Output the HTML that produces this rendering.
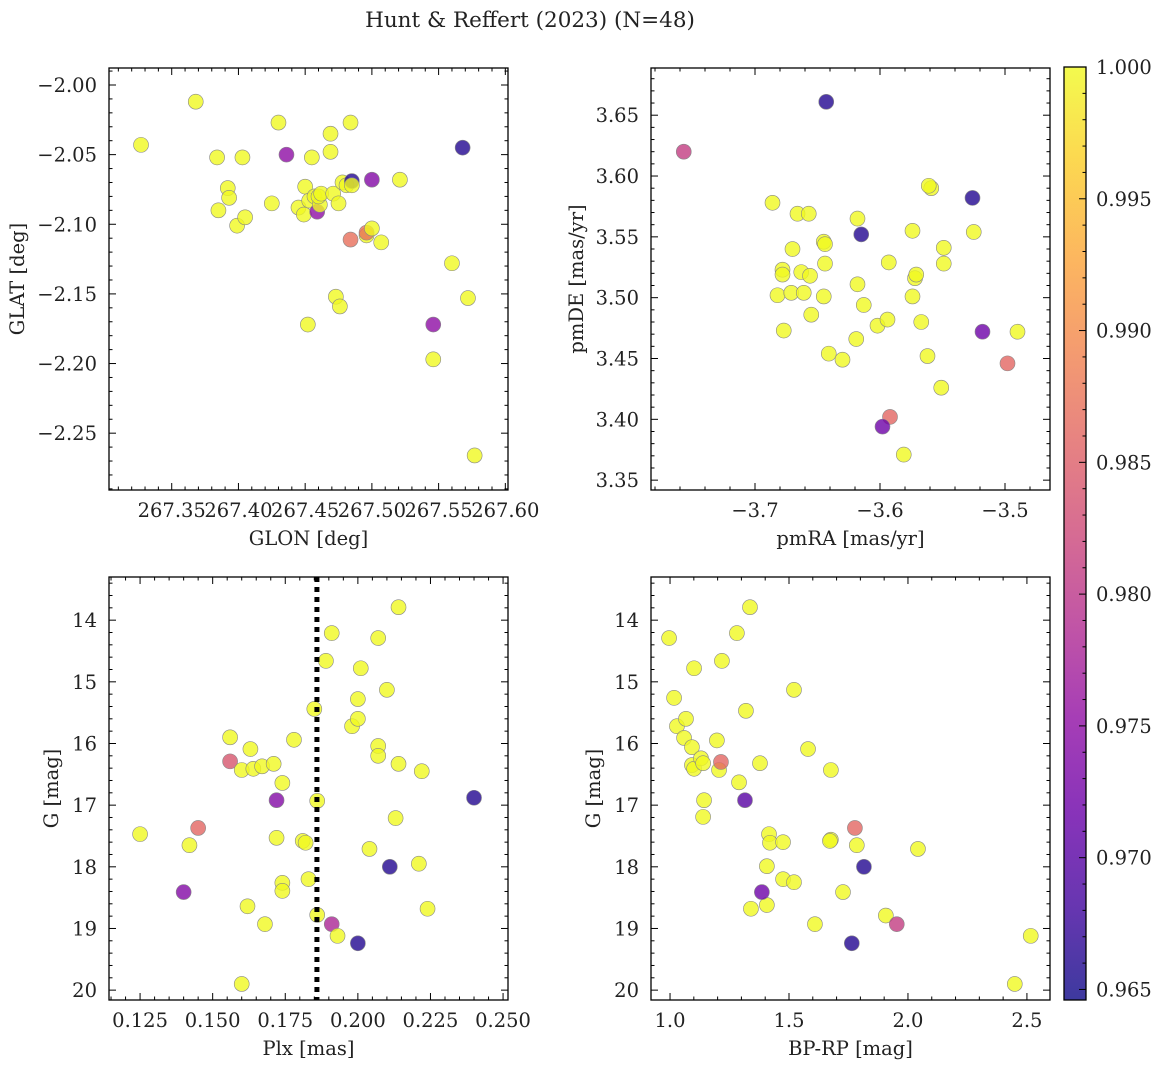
<!DOCTYPE html>
<html><head><meta charset="utf-8"><style>
body{margin:0;background:#fff}
svg text{font-family:"DejaVu Serif","Liberation Serif",serif;fill:#222}
</style></head><body>
<svg id="fig" width="1161" height="1067" xmlns="http://www.w3.org/2000/svg">
<defs><linearGradient id="cbg" x1="0" y1="1" x2="0" y2="0">
<stop offset="0" stop-color="#0d0887"/><stop offset="0.1" stop-color="#41049d"/><stop offset="0.2" stop-color="#6a00a8"/><stop offset="0.3" stop-color="#8f0da4"/><stop offset="0.4" stop-color="#b12a90"/><stop offset="0.5" stop-color="#cc4778"/><stop offset="0.6" stop-color="#e16462"/><stop offset="0.7" stop-color="#f2844b"/><stop offset="0.8" stop-color="#fca636"/><stop offset="0.9" stop-color="#fcce25"/><stop offset="1" stop-color="#f0f921"/></linearGradient></defs>
<text x="530" y="27" font-size="21.5" text-anchor="middle">Hunt &amp; Reffert (2023) (N=48)</text>
</svg>
<script>
// ---- data ----
const glon=[267.327,267.368,267.384,267.392,267.393,267.385,267.403,267.399,267.405,267.425,267.430,267.436,267.445,267.450,267.449,267.453,267.455,267.457,267.459,267.461,267.460,267.462,267.469,267.469,267.471,267.475,267.478,267.481,267.485,267.484,267.485,267.484,267.496,267.496,267.500,267.500,267.507,267.521,267.473,267.476,267.452,267.546,267.560,267.572,267.546,267.577,267.568];
const glat=[-2.043,-2.012,-2.052,-2.074,-2.081,-2.090,-2.052,-2.101,-2.095,-2.085,-2.027,-2.050,-2.088,-2.073,-2.093,-2.083,-2.052,-2.080,-2.091,-2.086,-2.080,-2.078,-2.035,-2.048,-2.078,-2.085,-2.070,-2.072,-2.069,-2.027,-2.072,-2.111,-2.108,-2.106,-2.103,-2.068,-2.113,-2.068,-2.152,-2.159,-2.172,-2.172,-2.128,-2.153,-2.197,-2.266,-2.045];
const probTL=[1,1,1,1,1,1,1,1,1,1,1,0.975,1,1,1,1,1,1,0.975,1,1,1,1,1,1,1,1,1,0.966,1,1,0.987,1,0.987,1,0.974,1,1,1,1,1,0.975,1,1,1,1,0.966];
const pmra=[-3.757,-3.643,-3.686,-3.666,-3.657,-3.678,-3.678,-3.682,-3.677,-3.670,-3.671,-3.663,-3.661,-3.656,-3.655,-3.645,-3.644,-3.644,-3.645,-3.641,-3.630,-3.618,-3.619,-3.618,-3.615,-3.613,-3.602,-3.594,-3.592,-3.598,-3.593,-3.572,-3.574,-3.571,-3.574,-3.567,-3.562,-3.559,-3.561,-3.551,-3.549,-3.549,-3.526,-3.525,-3.518,-3.498,-3.490,-3.581];
const pmde=[3.620,3.661,3.578,3.569,3.569,3.523,3.519,3.502,3.473,3.540,3.504,3.521,3.504,3.518,3.486,3.546,3.544,3.528,3.501,3.454,3.449,3.511,3.466,3.565,3.552,3.494,3.477,3.482,3.402,3.394,3.529,3.516,3.501,3.519,3.555,3.480,3.452,3.590,3.592,3.426,3.528,3.541,3.582,3.554,3.472,3.446,3.472,3.371];
const probTR=[0.981,0.966,1,1,1,1,1,1,1,1,1,1,1,1,1,1,1,1,1,1,1,1,1,1,0.966,1,1,1,0.986,0.972,1,1,1,1,1,1,1,1,1,1,1,1,0.966,1,0.972,0.986,1,1];
const plx=[0.125,0.142,0.145,0.140,0.156,0.156,0.160,0.163,0.164,0.167,0.171,0.172,0.172,0.174,0.178,0.162,0.168,0.174,0.174,0.181,0.182,0.185,0.186,0.186,0.183,0.189,0.191,0.191,0.193,0.198,0.200,0.200,0.201,0.204,0.207,0.207,0.207,0.210,0.214,0.213,0.211,0.200,0.221,0.222,0.224,0.240,0.214,0.160];
const gBL=[17.47,17.65,17.37,18.41,15.90,16.29,16.43,16.09,16.41,16.37,16.33,16.92,17.53,16.64,15.94,18.64,18.93,18.26,18.39,17.58,17.61,15.44,16.93,18.78,18.20,14.66,14.21,18.93,19.12,15.72,15.60,15.28,14.78,17.71,14.29,16.04,16.20,15.13,16.33,17.21,18.00,19.24,17.95,16.45,18.68,16.88,13.79,19.90];
const probBL=[1,1,0.986,0.974,1,0.984,1,1,1,1,1,0.974,1,1,1,1,1,1,1,1,1,1,1,1,1,1,1,0.978,1,1,1,1,1,1,1,1,1,1,1,1,0.966,0.966,1,1,1,0.966,1,1];
const bprp=[0.996,1.017,1.029,1.067,1.059,1.101,1.092,1.092,1.101,1.130,1.139,1.143,1.139,1.197,1.206,1.218,1.214,1.281,1.290,1.319,1.336,1.378,1.315,1.340,1.407,1.416,1.407,1.420,1.475,1.475,1.521,1.521,1.580,1.609,1.676,1.672,1.676,1.727,1.764,1.777,1.785,1.815,1.907,1.953,2.042,2.516,2.449,1.386];
const gBR=[14.29,15.26,15.72,15.60,15.91,14.78,16.06,16.35,16.41,16.24,16.32,16.92,17.19,15.95,16.43,14.66,16.30,14.21,16.63,15.47,13.79,16.32,16.92,18.68,18.62,17.47,17.99,17.61,17.60,18.20,18.25,15.13,16.09,18.93,17.56,17.58,16.43,18.41,19.24,17.37,17.65,18.00,18.79,18.93,17.71,19.12,19.90,18.41];
const probBR=[1,1,1,1,1,1,1,1,1,1,1,1,1,1,1,1,0.986,1,1,1,1,1,0.970,1,1,1,1,1,1,1,1,1,1,1,1,1,1,1,0.966,0.986,1,0.966,1,0.981,1,1,1,0.972];
const plxLine=0.1859;
const cbTicks=['0.965','0.970','0.975','0.980','0.985','0.990','0.995','1.000'];

const NS="http://www.w3.org/2000/svg";
const svg=document.getElementById('fig');
function mk(tag,attrs,parent){const e=document.createElementNS(NS,tag);for(const k in attrs)e.setAttribute(k,attrs[k]);(parent||svg).appendChild(e);return e;}
const stops=[[13,8,135],[65,4,157],[106,0,168],[143,13,164],[177,42,144],[204,71,120],[225,100,98],[242,132,75],[252,166,54],[252,206,37],[240,249,33]];
const cmin=0.9646,cmax=1.0;
function cmap(v){let t=Math.max(0,Math.min(1,(v-cmin)/(cmax-cmin)))*10;let i=Math.min(9,Math.floor(t)),f=t-i;const a=stops[i],b=stops[i+1];return 'rgb('+a.map((c,k)=>Math.round(c+(b[k]-c)*f)).join(',')+')';}
function fmt(v,d){let s=v.toFixed(d);return s.replace('-','\u2212');}
const TF=19.5;

function panel(o){
  const g=mk('g',{});
  
  
  const L=o.box[0],T=o.box[1],R=o.box[2],B=o.box[3];
  const sx=v=>L+(v-o.xd[0])/(o.xd[1]-o.xd[0])*(R-L);
  const sy=o.inv?(v=>T+(v-o.yd[0])/(o.yd[1]-o.yd[0])*(B-T)):(v=>B-(v-o.yd[0])/(o.yd[1]-o.yd[0])*(B-T));
  for(let i=0;i<o.x.length;i++){
    const c=mk('circle',{cx:sx(o.x[i]),cy:sy(o.y[i]),r:7.5,fill:cmap(o.c[i]),'fill-opacity':0.8,stroke:'#888','stroke-width':0.6},g);
    
    
  }
  if(o.vline!==undefined){
    const l=mk('line',{x1:sx(o.vline),x2:sx(o.vline),y1:T,y2:B,stroke:'#000','stroke-width':5,'stroke-dasharray':'5 5'},g);
    
    
  }
  mk('rect',{x:L,y:T,width:R-L,height:B-T,fill:'none',stroke:'#000','stroke-width':1.3},g);
  const eps=1e-9;
  function ticksX(step,minor,d){
    const n0=Math.ceil(o.xd[0]/minor-eps),n1=Math.floor(o.xd[1]/minor+eps);
    for(let n=n0;n<=n1;n++){const v=n*minor,x=sx(v);const maj=Math.abs(v/step-Math.round(v/step))<1e-6;const len=maj?7:3.5;
      mk('line',{x1:x,x2:x,y1:B,y2:B-len,stroke:'#000','stroke-width':1},g);mk('line',{x1:x,x2:x,y1:T,y2:T+len,stroke:'#000','stroke-width':1},g);
      if(maj){const t=mk('text',{x:x,y:B+27,'font-size':TF,'text-anchor':'middle'},g);t.textContent=fmt(v,d);}}
  }
  function ticksY(step,minor,d){
    const lo=Math.min(o.yd[0],o.yd[1]),hi=Math.max(o.yd[0],o.yd[1]);
    const n0=Math.ceil(lo/minor-eps),n1=Math.floor(hi/minor+eps);
    for(let n=n0;n<=n1;n++){const v=n*minor,y=sy(v);const maj=Math.abs(v/step-Math.round(v/step))<1e-6;const len=maj?7:3.5;
      mk('line',{x1:L,x2:L+len,y1:y,y2:y,stroke:'#000','stroke-width':1},g);mk('line',{x1:R,x2:R-len,y1:y,y2:y,stroke:'#000','stroke-width':1},g);
      if(maj){const t=mk('text',{x:L-12,y:y+7,'font-size':TF,'text-anchor':'end'},g);t.textContent=fmt(v,d);}}
  }
  ticksX(o.xt[0],o.xt[1],o.xt[2]);ticksY(o.yt[0],o.yt[1],o.yt[2]);
  const xl=mk('text',{x:(L+R)/2,y:B+55,'font-size':TF,'text-anchor':'middle'},g);xl.textContent=o.xlab;
  
  const yx=o.ylx;const yl=mk('text',{x:yx,y:(T+B)/2,'font-size':TF,'text-anchor':'middle',transform:'rotate(-90 '+yx+' '+(T+B)/2+')'},g);yl.textContent=o.ylab;
  
}
panel({name:'position-panel',box:[109,68,508,490],xd:[267.303,267.602],yd:[-2.2908,-1.9878],x:glon,y:glat,c:probTL,xt:[0.05,0.01,2],yt:[0.05,0.01,2],xlab:'GLON [deg]',ylab:'GLAT [deg]',ylx:24});
panel({name:'proper-motion-panel',box:[651,68,1050,490],xd:[-3.7832,-3.4640],yd:[3.3419,3.6888],x:pmra,y:pmde,c:probTR,xt:[0.1,0.02,1],yt:[0.05,0.01,2],xlab:'pmRA [mas/yr]',ylab:'pmDE [mas/yr]',ylx:583});
panel({name:'parallax-magnitude-panel',box:[109,577,508,1000],xd:[0.1143,0.2517],yd:[13.30,20.16],inv:true,x:plx,y:gBL,c:probBL,xt:[0.025,0.005,3],yt:[1,0.2,0],xlab:'Plx [mas]',ylab:'G [mag]',ylx:58,vline:plxLine});
panel({name:'cmd-panel',box:[651,577,1050,1000],xd:[0.920,2.597],yd:[13.30,20.16],inv:true,x:bprp,y:gBR,c:probBR,xt:[0.5,0.1,1],yt:[1,0.2,0],xlab:'BP-RP [mag]',ylab:'G [mag]',ylx:600});

const cb=mk('g',{});


const cT=67,cB=1000,cL=1064,cR=1086;
mk('rect',{x:cL,y:cT,width:cR-cL,height:cB-cT,fill:'url(#cbg)','fill-opacity':0.8},cb);
mk('rect',{x:cL,y:cT,width:cR-cL,height:cB-cT,fill:'none',stroke:'#000','stroke-width':1.3},cb);
const cy=v=>cB-(v-cmin)/(cmax-cmin)*(cB-cT);
for(let n=965;n<=1000;n++){const v=n/1000,y=cy(v),maj=n%5===0;mk('line',{x1:cR,x2:cR-(maj?7:3.5),y1:y,y2:y,stroke:'#000','stroke-width':1},cb);}
cbTicks.forEach(s=>{const t=mk('text',{x:cR+10,y:cy(parseFloat(s))+7,'font-size':TF},cb);t.textContent=s;});
</script>
</body></html>
